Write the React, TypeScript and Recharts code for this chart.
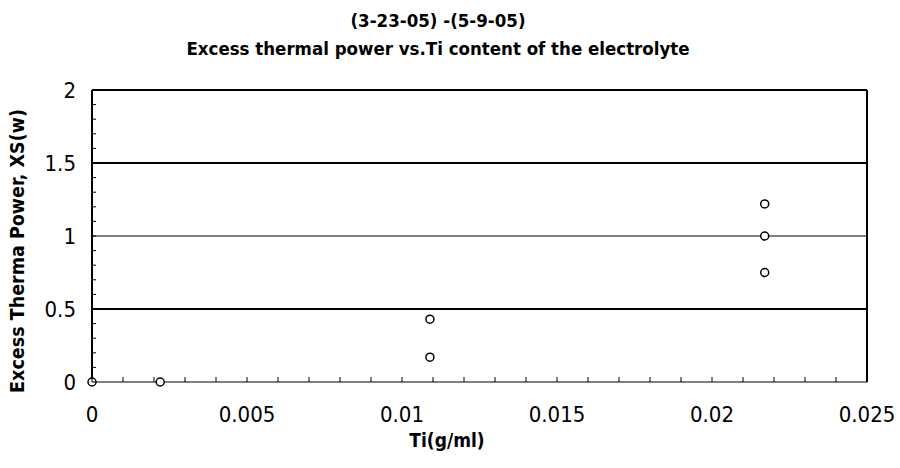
import React from "react";
import {
  ScatterChart,
  Scatter,
  XAxis,
  YAxis,
  ReferenceLine,
} from "recharts";

// Ti content (g/ml) and excess thermal power (W)
const tiContent = [0, 0.0022, 0.0109, 0.0109, 0.0217, 0.0217, 0.0217];
const excessPower = [0, 0, 0.43, 0.17, 1.22, 1.0, 0.75];

const xTicks = [
  0, 0.001, 0.002, 0.003, 0.004, 0.005, 0.006, 0.007, 0.008, 0.009, 0.01,
  0.011, 0.012, 0.013, 0.014, 0.015, 0.016, 0.017, 0.018, 0.019, 0.02, 0.021,
  0.022, 0.023, 0.024, 0.025,
];
const xLabels = [0, 0.005, 0.01, 0.015, 0.02, 0.025];

const yTicks = [
  0, 0.1, 0.2, 0.3, 0.4, 0.5, 0.6, 0.7, 0.8, 0.9, 1, 1.1, 1.2, 1.3, 1.4, 1.5,
  1.6, 1.7, 1.8, 1.9, 2,
];
const yLabels = [0, 0.5, 1, 1.5, 2];

const data = tiContent.map((x, i) => ({ x, y: excessPower[i] }));

const FONT = "'Liberation Sans Narrow', 'DejaVu Sans Condensed', 'Arial Narrow', sans-serif";

function XTick({ x, y, payload }: any) {
  const v = payload.value;
  const major = xLabels.some((l) => Math.abs(l - v) < 1e-9);
  return (
    <g>
      <line x1={x} x2={x} y1={y} y2={y - 5} stroke="#000" strokeWidth={1} />
      {major && (
        <text
          x={x}
          y={y + 32}
          textAnchor="middle"
          dominantBaseline="central"
          fontFamily={FONT}
          fontSize={22}
          fill="#000"
        >
          {String(v)}
        </text>
      )}
    </g>
  );
}

function YTick({ x, y, payload }: any) {
  const v = payload.value;
  const major = yLabels.some((l) => Math.abs(l - v) < 1e-9);
  return (
    <g>
      <line x1={x} x2={x + 4} y1={y} y2={y} stroke="#000" strokeWidth={1} />
      {major && (
        <text
          x={x - 16}
          y={y}
          textAnchor="end"
          dominantBaseline="central"
          fontFamily={FONT}
          fontSize={22}
          fill="#000"
        >
          {String(v)}
        </text>
      )}
    </g>
  );
}

function Dot({ cx, cy }: any) {
  return <circle cx={cx} cy={cy} r={4} fill="#fff" stroke="#000" strokeWidth={1.5} />;
}

export default function App() {
  return (
    <div
      style={{
        position: "absolute",
        left: 0,
        top: 0,
        width: 900,
        height: 468,
        background: "#fff",
      }}
    >
      <div
        style={{
          position: "absolute",
          left: 0,
          width: 876,
          top: 7,
          textAlign: "center",
          fontFamily: FONT,
          fontWeight: "bold",
          fontSize: 18.5,
          lineHeight: "28px",
          color: "#000",
        }}
      >
        <div>(3-23-05) -(5-9-05)</div>
        <div>Excess thermal power vs.Ti content of the electrolyte</div>
      </div>
      <ScatterChart
        width={900}
        height={468}
        margin={{ top: 90, right: 33, bottom: 0, left: 0 }}
      >
        <XAxis
          type="number"
          dataKey="x"
          domain={[0, 0.025]}
          ticks={xTicks}
          interval={0}
          tick={<XTick />}
          tickLine={false}
          tickSize={0}
          tickMargin={0}
          height={86}
          axisLine={{ stroke: "#000", strokeWidth: 1 }}
        />
        <YAxis
          type="number"
          dataKey="y"
          domain={[0, 2]}
          ticks={yTicks}
          interval={0}
          tick={<YTick />}
          tickLine={false}
          tickSize={0}
          tickMargin={0}
          width={92}
          axisLine={{ stroke: "#000", strokeWidth: 2 }}
        />
        <ReferenceLine y={0.5} stroke="#000" strokeWidth={2} />
        <ReferenceLine y={1} stroke="#000" strokeWidth={1} />
        <ReferenceLine y={1.5} stroke="#000" strokeWidth={2} />
        <ReferenceLine y={2} stroke="#000" strokeWidth={2} />
        <ReferenceLine x={0.025} stroke="#000" strokeWidth={2} />
        <Scatter data={data} shape={<Dot />} isAnimationActive={false} />
      </ScatterChart>
      <div
        style={{
          position: "absolute",
          left: 347,
          width: 200,
          top: 429,
          textAlign: "center",
          fontFamily: FONT,
          fontWeight: "bold",
          fontSize: 19,
          color: "#000",
        }}
      >
        Ti(g/ml)
      </div>
      <div
        style={{
          position: "absolute",
          left: 18 - 160,
          top: 251 - 12,
          width: 320,
          height: 24,
          lineHeight: "24px",
          textAlign: "center",
          transform: "rotate(-90deg)",
          fontFamily: FONT,
          fontWeight: "bold",
          fontSize: 19.5,
          color: "#000",
        }}
      >
        Excess Therma Power, XS(w)
      </div>
    </div>
  );
}
